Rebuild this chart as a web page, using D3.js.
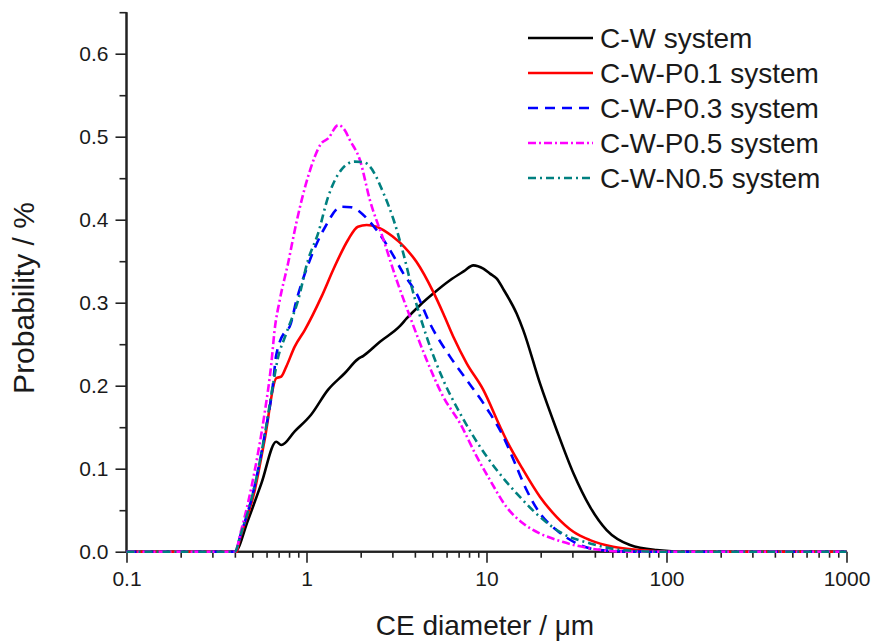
<!DOCTYPE html>
<html><head><meta charset="utf-8">
<script src="https://cdn.jsdelivr.net/npm/d3@7/dist/d3.min.js"></script>
<style>
body{margin:0;background:#fff;}
svg text{font-family:"Liberation Sans",Arial,sans-serif;fill:#1a1a1a;}
</style></head>
<body>
<svg id="chart" width="874" height="643"></svg>
<script>
// ---- data (diameter in µm, probability in %) ----
const seriesNames = ["C-W system","C-W-P0.1 system","C-W-P0.3 system","C-W-P0.5 system","C-W-N0.5 system"];
const cwD = [0.1,0.4,0.473,0.561,0.679,0.724,0.86,1.06,1.316,1.63,1.93,2.07,2.56,3.31,3.6,4.27,5.06,6.27,7.5,8.45,9.6,10.45,11.4,12.5,14.7,16.0,19.8,24.5,30.4,37.6,46.5,62.7,88,130,1000];
const cwP = [0,0,0.038,0.082,0.1325,0.1285,0.145,0.165,0.195,0.215,0.232,0.236,0.253,0.272,0.281,0.297,0.311,0.327,0.338,0.345,0.341,0.335,0.329,0.315,0.287,0.267,0.203,0.147,0.0945,0.054,0.026,0.008,0.002,0,0];
const p01D = [0.1,0.41,0.416,0.516,0.585,0.679,0.724,0.772,0.86,0.978,1.21,1.43,1.70,1.93,2.16,2.45,3.0,3.5,4.09,5.06,5.75,6.54,7.76,9.6,11.9,12.9,16.0,19.8,24.5,30.4,37.6,50.5,71,110,1000];
const p01P = [0,0,0.006,0.074,0.1346,0.209,0.211,0.223,0.247,0.267,0.307,0.343,0.3756,0.3916,0.3936,0.3916,0.380,0.367,0.349,0.313,0.287,0.259,0.227,0.195,0.1506,0.1346,0.0984,0.0663,0.042,0.024,0.014,0.006,0.002,0,0];
const p03D = [0.1,0.4,0.43,0.516,0.585,0.65,0.679,0.772,0.806,0.88,1.06,1.26,1.56,1.77,2.16,2.45,2.91,3.45,4.09,4.85,6.27,7.76,9.6,10.45,12.4,14.4,16.7,19.8,24.5,31.7,37.6,50,80,1000];
const p03P = [0,0,0.02,0.08,0.14,0.2,0.237,0.267,0.271,0.303,0.355,0.39,0.4157,0.415,0.4017,0.3876,0.3635,0.3354,0.311,0.275,0.235,0.207,0.179,0.1667,0.1386,0.1065,0.0743,0.0463,0.026,0.010,0.004,0.001,0,0];
const p05D = [0.1,0.4,0.434,0.516,0.585,0.638,0.665,0.71,0.789,0.877,1.02,1.21,1.32,1.50,1.63,1.74,1.98,2.25,2.68,3.17,3.76,4.65,5.75,7.13,8.83,10.45,12.9,16.0,19.8,26.4,37.6,60,1000];
const p05P = [0,0,0.026,0.098,0.1667,0.227,0.267,0.303,0.347,0.3957,0.4518,0.492,0.498,0.514,0.508,0.496,0.472,0.4237,0.3755,0.327,0.283,0.231,0.1867,0.1547,0.1145,0.0864,0.054,0.034,0.022,0.012,0.004,0,0];
const n05D = [0.1,0.4,0.43,0.516,0.585,0.65,0.69,0.772,0.898,1.02,1.16,1.32,1.56,1.85,2.1,2.25,2.68,3.05,3.45,3.88,4.65,5.75,7.13,9.2,11.4,14.7,19.8,26.4,37.6,57,90,1000];
const n05P = [0,0,0.02,0.08,0.14,0.2,0.231,0.263,0.303,0.3515,0.3836,0.4277,0.46,0.470,0.469,0.464,0.4318,0.3996,0.3595,0.3153,0.259,0.2069,0.1667,0.1265,0.0984,0.0703,0.042,0.022,0.010,0.002,0,0];
const xTickValues = [0.1,1,10,100,1000];
const xTickLabels = ["0.1","1","10","100","1000"];
const yTickValues = [0,0.1,0.2,0.3,0.4,0.5,0.6];
const yTickLabels = ["0.0","0.1","0.2","0.3","0.4","0.5","0.6"];

const seriesD = [cwD,p01D,p03D,p05D,n05D];
const seriesP = [cwP,p01P,p03P,p05P,n05P];
const colors = ["#000000","#ff0000","#0000ff","#ff00ff","#008080"];
const dashes = [null,null,"10,7","8,3,2,3","8,4,2,4"];

const svg = d3.select("#chart");
const x = d3.scaleLog().domain([0.1,1000]).range([126.5,846.5]);
const y = d3.scaleLinear().domain([0,0.65]).range([551.7,12.2]);

// minor ticks
const xMinor = [];
for (let e=-1;e<3;e++) for (let m=2;m<=9;m++) xMinor.push(m*Math.pow(10,e));
const yMinor = d3.range(0.05,0.66,0.1);

const axisColor = "#222";
const gx = svg.append("g").attr("transform","translate(0,551.7)")
  .call(d3.axisBottom(x).tickValues(xMinor).tickSize(6).tickFormat(""));
const gx2 = svg.append("g").attr("transform","translate(0,551.7)")
  .call(d3.axisBottom(x).tickValues(xTickValues).tickSize(11).tickPadding(8)
    .tickFormat((d,i)=>xTickLabels[i]));
const gy = svg.append("g").attr("transform","translate(126.5,0)")
  .call(d3.axisLeft(y).tickValues(yMinor).tickSize(7).tickFormat(""));
const gy2 = svg.append("g").attr("transform","translate(126.5,0)")
  .call(d3.axisLeft(y).tickValues(yTickValues).tickSize(11).tickPadding(7)
    .tickFormat((d,i)=>yTickLabels[i]));
[gx,gx2,gy,gy2].forEach(g=>{
  g.selectAll("path.domain").attr("stroke",axisColor).attr("stroke-width",2);
  g.selectAll(".tick line").attr("stroke",axisColor).attr("stroke-width",1.6);
  g.selectAll(".tick text").attr("font-size",21).attr("font-family","Liberation Sans, Arial, sans-serif").attr("fill","#1a1a1a");
});
gx.select("path.domain").attr("d","M126.5,0H846.5");
gx2.select("path.domain").attr("d","M126.5,0H846.5");
gy.select("path.domain").attr("d","M0,551.7V12.2");
gy2.select("path.domain").attr("d","M0,551.7V12.2");

// lines
const line = d3.line().x(d=>x(d[0])).y(d=>y(d[1])).curve(d3.curveMonotoneX);
seriesD.forEach((ds,i)=>{
  const pts = ds.map((d,j)=>[d,seriesP[i][j]]);
  svg.append("path").datum(pts).attr("d",line)
    .attr("fill","none").attr("stroke",colors[i]).attr("stroke-width",2.6)
    .attr("stroke-linejoin","round")
    .attr("stroke-dasharray",dashes[i]);
});

// axis titles
svg.append("text").attr("x",485).attr("y",635).attr("text-anchor","middle")
  .attr("font-size",28).text("CE diameter / μm");
svg.append("text").attr("transform","translate(34,298) rotate(-90)").attr("text-anchor","middle")
  .attr("font-size",30).text("Probability / %");

// legend
const lg = svg.append("g");
seriesNames.forEach((n,i)=>{
  const cy = 38 + i*35;
  lg.append("line").attr("x1",528).attr("x2",593).attr("y1",cy).attr("y2",cy)
    .attr("stroke",colors[i]).attr("stroke-width",2.6).attr("stroke-dasharray",dashes[i]);
  lg.append("text").attr("x",600).attr("y",cy+10).attr("font-size",28).text(n);
});
</script>
</body></html>
